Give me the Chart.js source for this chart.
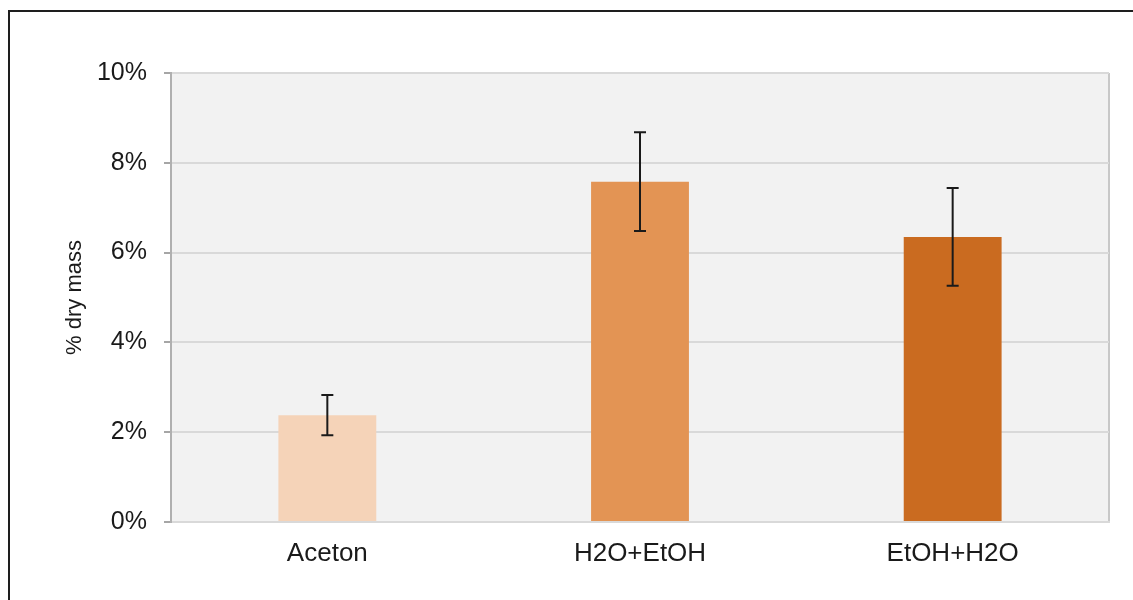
<!DOCTYPE html>
<html>
<head>
<meta charset="utf-8">
<title>% dry mass by solvent</title>
<script src="https://cdn.jsdelivr.net/npm/chart.js@4/dist/chart.umd.min.js"></script>
<style>
  html, body { margin: 0; padding: 0; background: #ffffff; }
  #wrap { position: relative; width: 1133px; height: 600px; overflow: hidden; }
  #frame {
    position: absolute; left: 8px; top: 10px; width: 1200px; height: 700px;
    border-left: 2px solid #1e1e1e; border-top: 2px solid #1e1e1e;
    box-sizing: border-box; pointer-events: none;
  }
  canvas { position: absolute; left: 0; top: 0; }
</style>
</head>
<body>
<div id="wrap">
  <canvas id="chart" width="1133" height="600"></canvas>
  <div id="frame"></div>
</div>
<script>
// Extraction solvents and measured yield (% of dry mass)
const categories = ['Aceton', 'H2O+EtOH', 'EtOH+H2O'];
const yieldValues = [2.38, 7.58, 6.35];
const yieldErrors = [0.45, 1.10, 1.09];
const barColors = ['#F5D3B8', '#E39454', '#CA6B20'];
const yTickValues = [0, 2, 4, 6, 8, 10];

const FONT = "'Liberation Sans', Arial, sans-serif";

// Grey plot area with a thin border on the top and right sides
const plotBackground = {
  id: 'plotBackground',
  beforeDraw(chart) {
    const { ctx, chartArea: a } = chart;
    ctx.save();
    ctx.fillStyle = '#F2F2F2';
    ctx.fillRect(a.left, a.top, a.right - a.left, a.bottom - a.top);
    ctx.strokeStyle = '#C8C8C8';
    ctx.lineWidth = 2;
    ctx.beginPath();
    ctx.moveTo(a.right, a.top);
    ctx.lineTo(a.right, a.bottom);
    ctx.stroke();
    ctx.restore();
  }
};

// Symmetric error bars drawn from the error arrays through the y scale
const errorBars = {
  id: 'errorBars',
  afterDatasetsDraw(chart) {
    const { ctx } = chart;
    const yScale = chart.scales.y;
    const meta = chart.getDatasetMeta(0);
    ctx.save();
    ctx.strokeStyle = '#1A1A1A';
    ctx.lineWidth = 2;
    meta.data.forEach((bar, i) => {
      const v = yieldValues[i], e = yieldErrors[i];
      const yTop = yScale.getPixelForValue(v + e);
      const yBot = yScale.getPixelForValue(v - e);
      const x = bar.x, cap = 6;
      ctx.beginPath();
      ctx.moveTo(x, yTop); ctx.lineTo(x, yBot);
      ctx.moveTo(x - cap, yTop); ctx.lineTo(x + cap, yTop);
      ctx.moveTo(x - cap, yBot); ctx.lineTo(x + cap, yBot);
      ctx.stroke();
    });
    ctx.restore();
  }
};

new Chart(document.getElementById('chart'), {
  type: 'bar',
  data: {
    labels: categories,
    datasets: [{
      data: yieldValues,
      backgroundColor: barColors,
      borderWidth: 0,
      categoryPercentage: 1,
      barPercentage: 0.313
    }]
  },
  options: {
    responsive: false,
    animation: false,
    devicePixelRatio: 1,
    layout: { padding: { left: 0, top: 73, right: 24, bottom: 0 } },
    plugins: {
      legend: { display: false },
      tooltip: { enabled: false }
    },
    scales: {
      x: {
        grid: { display: false, drawTicks: false },
        border: { display: true, color: '#D9D9D9', width: 2 },
        ticks: {
          color: '#1A1A1A',
          font: { family: FONT, size: 26 },
          padding: 16,
          maxRotation: 0
        },
        afterFit(scale) { scale.height = 78; }
      },
      y: {
        min: 0,
        max: 10,
        afterBuildTicks(scale) {
          scale.ticks = yTickValues.map(v => ({ value: v }));
        },
        grid: {
          color: '#D9D9D9',
          lineWidth: 2,
          tickLength: 7,
          tickColor: '#A6A6A6',
          tickWidth: 2,
          drawTicks: true
        },
        border: { display: true, color: '#B0B0B0', width: 2 },
        ticks: {
          color: '#1A1A1A',
          font: { family: FONT, size: 25 },
          padding: 17,
          callback: v => v + '%'
        },
        title: {
          display: true,
          text: '% dry mass',
          color: '#1A1A1A',
          font: { family: FONT, size: 22 },
          padding: { top: 62, bottom: 0 }
        },
        afterFit(scale) { scale.width = 171; }
      }
    }
  },
  plugins: [plotBackground, errorBars]
});
</script>
</body>
</html>
